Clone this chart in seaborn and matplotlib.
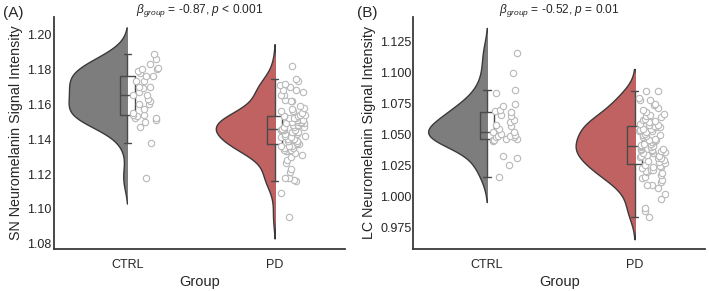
import numpy as np
import pandas as pd
import matplotlib.pyplot as plt
from matplotlib.patches import Rectangle
import seaborn as sns

# %%
groups = ["CTRL", "PD"]
palette = {"CTRL": "#7d7d7d", "PD": "#c06262"}

sn_ctrl = [1.118, 1.138, 1.147, 1.150, 1.151, 1.152, 1.152, 1.153, 1.154, 1.154,
           1.155, 1.157, 1.160, 1.160, 1.162, 1.163, 1.165, 1.165, 1.167, 1.169,
           1.170, 1.170, 1.173, 1.173, 1.176, 1.176, 1.178, 1.179, 1.180, 1.180,
           1.181, 1.183, 1.186, 1.189]
sn_pd = [1.0955, 1.109, 1.116, 1.1165, 1.118, 1.1175, 1.121, 1.123, 1.1265, 1.128,
         1.130, 1.131, 1.132, 1.133, 1.133, 1.134, 1.134, 1.135, 1.135, 1.136,
         1.136, 1.136,
         1.137, 1.137, 1.138, 1.138, 1.139, 1.139, 1.139, 1.140, 1.140, 1.141,
         1.141, 1.142, 1.142, 1.143, 1.143, 1.144, 1.144, 1.144, 1.145, 1.145,
         1.145, 1.145, 1.145, 1.146, 1.146, 1.147, 1.147, 1.147, 1.148, 1.148,
         1.148, 1.149, 1.149, 1.149, 1.150, 1.150, 1.150, 1.151, 1.151, 1.151,
         1.152, 1.152, 1.152, 1.153, 1.153, 1.153,
         1.154, 1.154, 1.155, 1.156, 1.156, 1.157, 1.158, 1.159, 1.162, 1.162,
         1.1625, 1.165, 1.1655, 1.167, 1.168, 1.168, 1.170, 1.171, 1.1715, 1.173,
         1.1745, 1.182]
lc_ctrl = [1.016, 1.026, 1.031, 1.033, 1.045, 1.046, 1.046, 1.047, 1.047, 1.048,
           1.048, 1.049, 1.049, 1.050, 1.051, 1.052, 1.052, 1.055, 1.057, 1.058,
           1.060, 1.062, 1.065, 1.066, 1.068, 1.069, 1.070, 1.073, 1.075, 1.084,
           1.086, 1.100, 1.116]
lc_pd = [0.984, 0.989, 0.991, 0.998, 1.002, 1.007, 1.010, 1.010, 1.012, 1.014,
         1.015, 1.016, 1.018, 1.019, 1.020, 1.021, 1.022, 1.022, 1.023, 1.024,
         1.024, 1.025,
         1.026, 1.027, 1.028, 1.029, 1.030, 1.031, 1.031, 1.032, 1.033, 1.033,
         1.034, 1.035, 1.035, 1.036, 1.037, 1.037, 1.038, 1.038, 1.039, 1.039,
         1.040, 1.040, 1.041, 1.041, 1.042, 1.043, 1.043, 1.044, 1.045, 1.046,
         1.046, 1.047, 1.048, 1.049, 1.050, 1.050, 1.051, 1.052, 1.053, 1.053,
         1.054, 1.055, 1.055, 1.056, 1.056, 1.057,
         1.058, 1.058, 1.059, 1.060, 1.060, 1.061, 1.062, 1.063, 1.064, 1.065,
         1.066, 1.067, 1.068, 1.070, 1.072, 1.074, 1.075, 1.078, 1.078, 1.080,
         1.085, 1.085]

sn_ticks = [1.08, 1.10, 1.12, 1.14, 1.16, 1.18, 1.20]
lc_ticks = [0.975, 1.000, 1.025, 1.050, 1.075, 1.100, 1.125]

# %%
sn_df = pd.DataFrame({"Group": ["CTRL"] * len(sn_ctrl) + ["PD"] * len(sn_pd),
                      "Intensity": sn_ctrl + sn_pd})
lc_df = pd.DataFrame({"Group": ["CTRL"] * len(lc_ctrl) + ["PD"] * len(lc_pd),
                      "Intensity": lc_ctrl + lc_pd})

sns.set_theme(style="white")
plt.rcParams["font.family"] = ["Liberation Sans", "DejaVu Sans"]
plt.rcParams["mathtext.fontset"] = "custom"
plt.rcParams["mathtext.it"] = "Liberation Sans:italic"
plt.rcParams["mathtext.rm"] = "Liberation Sans"

fig = plt.figure(figsize=(7.09, 2.91), dpi=100)
ax_a = fig.add_axes([0.076, 0.144, 0.411, 0.798])
ax_b = fig.add_axes([0.583, 0.144, 0.412, 0.798])

panels = [
    (ax_a, sn_df, "SN Neuromelanin Signal Intensity", sn_ticks, (1.077, 1.21),
     r"$\beta_{group}$ = -0.87, $p$ < 0.001", "{:.2f}"),
    (ax_b, lc_df, "LC Neuromelanin Signal Intensity", lc_ticks, (0.958, 1.145),
     r"$\beta_{group}$ = -0.52, $p$ = 0.01", "{:.3f}"),
]

np.random.seed(3)
for ax, df, ylab, ticks, ylim, title, fmt in panels:
    for xc, g in enumerate(groups):
        n0 = len(ax.collections)
        sns.violinplot(data=df[df["Group"] == g], x="Group", y="Intensity",
                       order=groups, color=palette[g], inner=None,
                       density_norm="width", width=0.8, linewidth=1,
                       linecolor="#3a3a3a", saturation=1, ax=ax)
        # keep only the left half of the violin (raincloud style)
        for coll in ax.collections[n0:]:
            clip = Rectangle((xc - 0.6, -10), 0.6, 20, transform=ax.transData)
            coll.set_clip_path(clip)
    n_before = len(ax.collections)
    sns.stripplot(data=df, x="Group", y="Intensity", order=groups, jitter=0.09,
                  size=4.6, color="white", edgecolor="#b8b8b8", linewidth=0.8,
                  ax=ax)
    for coll in ax.collections[n_before:]:
        coll.set_offsets(coll.get_offsets() + np.array([0.12, 0.0]))
    sns.boxplot(data=df, x="Group", y="Intensity", order=groups, width=0.1,
                fill=False, color="#4a4a4a", showfliers=False, linewidth=1,
                ax=ax)
    ax.set_xlim(-0.5, 1.48)
    ax.set_ylim(*ylim)
    ax.set_yticks(ticks)
    ax.set_yticklabels([fmt.format(t) for t in ticks])
    ax.set_ylabel(ylab, fontsize=10.3, labelpad=3)
    ax.set_xlabel("Group", fontsize=10.5, labelpad=3)
    ax.set_title(title, fontsize=8.6, pad=3)
    ax.tick_params(axis="y", labelsize=9, pad=1.5, length=0)
    ax.tick_params(axis="x", labelsize=9, pad=7, length=0)
    sns.despine(ax=ax)
    for sp in ["left", "bottom"]:
        ax.spines[sp].set_color("#3a3a3a")
        ax.spines[sp].set_linewidth(1.3)

fig.text(0.004, 0.955, "(A)", fontsize=11, va="center")
fig.text(0.503, 0.955, "(B)", fontsize=11, va="center")

fig.savefig("out.png", dpi=100)
